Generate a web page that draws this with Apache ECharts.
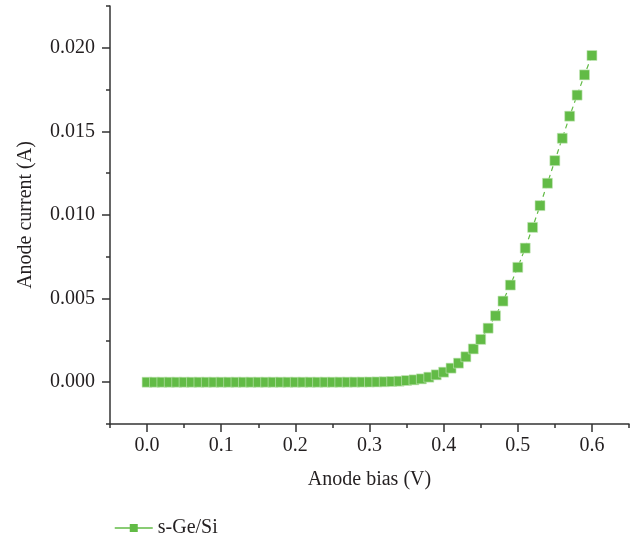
<!DOCTYPE html>
<html>
<head>
<meta charset="utf-8">
<script src="https://cdn.jsdelivr.net/npm/echarts@6/dist/echarts.min.js"></script>
<style>html,body{margin:0;padding:0;background:#fff}#c{width:637px;height:539px}</style>
</head>
<body>
<div id="c"></div>
<script>
const seriesName = 's-Ge/Si';
const biasV = [0.00,0.01,0.02,0.03,0.04,0.05,0.06,0.07,0.08,0.09,0.10,0.11,0.12,0.13,0.14,0.15,0.16,0.17,0.18,0.19,0.20,0.21,0.22,0.23,0.24,0.25,0.26,0.27,0.28,0.29,0.30,0.31,0.32,0.33,0.34,0.35,0.36,0.37,0.38,0.39,0.40,0.41,0.42,0.43,0.44,0.45,0.46,0.47,0.48,0.49,0.50,0.51,0.52,0.53,0.54,0.55,0.56,0.57,0.58,0.59,0.60];
const currentA = [0,0,0,0,0,0,0,0,0,0,0,0,0,0,0,0,0,0,0,0,0,0,0,0,0.000001,0.000001,0.000002,0.000003,0.000005,0.000007,0.00001,0.000015,0.000025,0.00004,0.00006,0.0001,0.00014,0.0002,0.0003,0.00044,0.0006,0.00084,0.00114,0.00152,0.00199,0.00256,0.00323,0.00397,0.00485,0.00581,0.00687,0.00802,0.00926,0.01056,0.0119,0.01325,0.01459,0.01591,0.01717,0.01838,0.01954];
const xMajorTicks = [0,0.1,0.2,0.3,0.4,0.5,0.6];
const yMajorTicks = [0,0.005,0.01,0.015,0.02];
const xMinorTicks = [-0.05,0.05,0.15,0.25,0.35,0.45,0.55,0.65];
const yMinorTicks = [-0.0025,0.0025,0.0075,0.0125,0.0175,0.0225];

const font = 'Liberation Serif';
const txt = '#231f20';
const axisCol = '#333333';
const green = '#62bb46';

const chart = echarts.init(document.getElementById('c'));
const data = biasV.map((x,i)=>[x,currentA[i]]);
chart.setOption({
  animation:false,
  grid:{left:110,right:8,top:6,bottom:115,containLabel:false},
  legend:{
    left:109, top:513, itemWidth:38, itemHeight:10, itemGap:14,
    textStyle:{fontFamily:font,fontSize:20,color:txt},
    itemStyle:{color:green,borderWidth:0,opacity:1},
    lineStyle:{color:green,width:1.5,type:'solid',opacity:1},
    data:[seriesName]
  },
  xAxis:[{
    type:'value', min:-0.05, max:0.65,
    name:'Anode bias (V)', nameLocation:'middle', nameGap:46,
    nameTextStyle:{fontFamily:font,fontSize:20,color:txt},
    axisLine:{show:true,onZero:false,lineStyle:{color:axisCol,width:1.5}},
    axisTick:{show:true,length:8,customValues:xMajorTicks,lineStyle:{color:axisCol,width:1.5}},
    axisLabel:{show:true,customValues:xMajorTicks,margin:12,fontFamily:font,fontSize:20,color:txt,formatter:v=>v.toFixed(1)},
    splitLine:{show:false}
  },{
    type:'value', min:-0.05, max:0.65, position:'bottom',
    axisLine:{show:false,onZero:false},
    axisTick:{show:true,length:4,customValues:xMinorTicks,lineStyle:{color:axisCol,width:1.5}},
    axisLabel:{show:false},
    splitLine:{show:false}
  }],
  yAxis:[{
    type:'value', min:-0.0025, max:0.0225,
    name:'Anode current (A)', nameLocation:'middle', nameGap:74,
    nameTextStyle:{fontFamily:font,fontSize:20,color:txt},
    axisLine:{show:true,onZero:false,lineStyle:{color:axisCol,width:1.5}},
    axisTick:{show:true,length:8,customValues:yMajorTicks,lineStyle:{color:axisCol,width:1.5}},
    axisLabel:{show:true,customValues:yMajorTicks,margin:15,fontFamily:font,fontSize:20,color:txt,formatter:v=>v.toFixed(3)},
    splitLine:{show:false}
  },{
    type:'value', min:-0.0025, max:0.0225, position:'left',
    axisLine:{show:false,onZero:false},
    axisTick:{show:true,length:4,customValues:yMinorTicks,lineStyle:{color:axisCol,width:1.5}},
    axisLabel:{show:false},
    splitLine:{show:false}
  }],
  series:[{
    name:seriesName, type:'line', data:data,
    xAxisIndex:0, yAxisIndex:0,
    symbol:'rect', symbolSize:10,
    itemStyle:{color:green,borderColor:'#c8e8bc',borderWidth:0.6},
    lineStyle:{color:green,width:1.2,type:[5,4]},
    z:3
  }]
});
</script>
</body>
</html>
